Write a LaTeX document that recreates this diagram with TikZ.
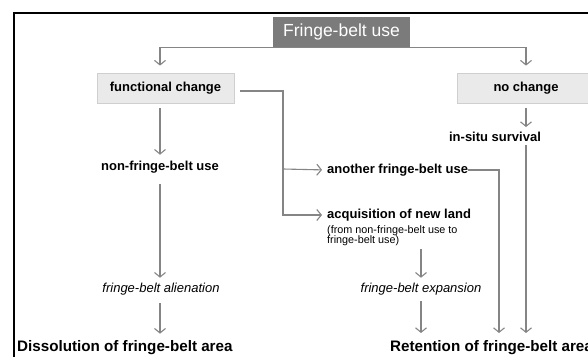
\documentclass[tikz,border=0pt]{standalone}
\usepackage{fontspec}
\setmainfont{Liberation Sans}
\usetikzlibrary{arrows.meta,positioning}
\definecolor{linegray}{HTML}{858585}
\definecolor{titlegray}{HTML}{7B7B7B}
\definecolor{boxfill}{HTML}{EAEAEA}
\definecolor{boxline}{HTML}{CFCFCF}
\tikzset{
  arr/.style={draw=linegray, line width=1.1pt, -{Straight Barb[length=4.5pt,width=11pt]}},
  conn/.style={draw=linegray, line width=1.1pt},
  usebox/.style={fill=boxfill, draw=boxline, line width=0.8pt, minimum width=137pt,
    minimum height=30pt, font=\fontsize{13}{13}\selectfont\bfseries},
  lbl/.style={inner sep=0pt, font=\fontsize{13}{13}\selectfont\bfseries},
  itlbl/.style={inner sep=0pt, font=\fontsize{13}{13}\selectfont\itshape},
  note/.style={inner sep=0pt, align=left, font=\fontsize{10.8}{10.5}\selectfont},
  result/.style={inner sep=0pt, font=\fontsize{15.2}{15.2}\selectfont\bfseries},
}
\begin{document}
\begin{tikzpicture}[x=1pt,y=-1pt]
  \path[use as bounding box, clip] (0,0) rectangle (588,356);
  \draw[line width=1.8pt] (14,380) -- (14,13) -- (600,13); %Frame

  \node[fill=titlegray, text=white, minimum width=137pt, minimum height=30pt,
    font=\fontsize{17.5}{17.5}\selectfont] (title) at (341.5,32) {Fringe-belt use};
  \node[usebox] (fchange) at (165.5,88) {functional change};
  \node[usebox, minimum width=138pt] (nochange) at (526,88) {no change};

  \node[lbl] (nonfb) at (160,167) {non-fringe-belt use};
  \node[itlbl] (alien) at (161,289) {fringe-belt alienation};
  \node[result, anchor=west] (dissol) at (17,348) {Dissolution of fringe-belt area};

  \node[lbl, anchor=west] (another) at (327,170) {another fringe-belt use};
  \node[lbl, anchor=west] (acq) at (327,215) {acquisition of new land};
  \node[note, anchor=north west] (acqnote) at (327,225) {(from non-fringe-belt use to\\fringe-belt use)};
  \node[itlbl] (expan) at (421,289) {fringe-belt expansion};

  \node[lbl] (insitu) at (495,137) {in-situ survival};
  \node[result, anchor=west] (retent) at (390,348) {Retention of fringe-belt area};

  \coordinate (split) at (283,169);
  \coordinate (tipA) at (499,333);
  \coordinate (tipB) at (526,333);

  % from the title
  \draw[arr, shorten >=7pt] (title.south) -| (fchange.north -| nonfb.north);
  \draw[arr, shorten >=7pt] (title.south) -| (nochange.north);

  % functional change
  \draw[arr, shorten <=5pt, shorten >=6pt] (fchange.south -| nonfb.south) -- (nonfb.north);
  \draw[arr, shorten <=11pt, shorten >=5pt] (nonfb.south) -- (alien.north -| nonfb.south);
  \draw[arr, shorten <=8pt, shorten >=7pt] (alien.south -| nonfb.south) -- (dissol.north -| nonfb.south);
  \draw[arr, shorten <=6pt, shorten >=5pt] ([yshift=-3pt]fchange.east) -| (split) |- (acq.west);
  \draw[arr, shorten >=5pt] (split) -- (another.west);
  \draw[arr, shorten <=3pt, shorten >=5pt] (acqnote.south -| expan.north) -- (expan.north);
  \draw[arr, shorten <=6pt] (expan.south) -- (expan.south |- tipA);

  % no change
  \draw[arr, shorten <=5pt, shorten >=5pt] (nochange.south) -- (insitu.north -| nochange.south);
  \draw[arr, shorten <=3pt] (insitu.south -| nochange.south) -- (tipB);
  \draw[arr] (another.east) -| (tipA);
\end{tikzpicture}
\end{document}
